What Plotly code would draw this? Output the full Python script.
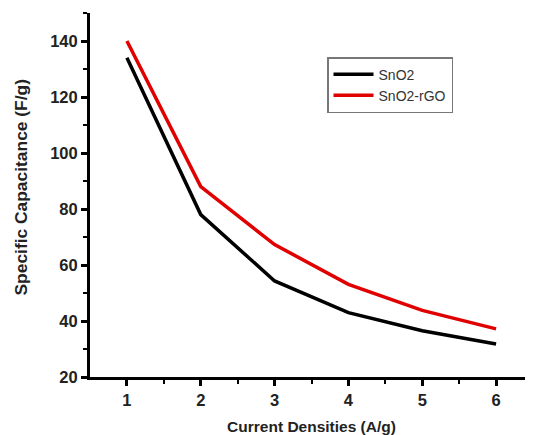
import plotly.graph_objects as go

current_density = [1, 2, 3, 4, 5, 6]
sno2 = [134, 78, 54.3, 43, 36.5, 31.8]
sno2_rgo = [140, 88, 67.3, 53.1, 43.8, 37.2]

fig = go.Figure()
fig.add_trace(go.Scatter(x=current_density, y=sno2, mode="lines", name="SnO2",
                         line=dict(color="black", width=3.5)))
fig.add_trace(go.Scatter(x=current_density, y=sno2_rgo, mode="lines", name="SnO2-rGO",
                         line=dict(color="#e00000", width=3.5)))

font_family = "Liberation Sans, Arial, sans-serif"
# page body has an 8px margin, so the figure is sized/margined to compensate
fig.update_layout(
    width=525, height=427,
    margin=dict(l=82, r=0, t=5, b=58),
    plot_bgcolor="white", paper_bgcolor="white",
    font=dict(family=font_family, color="#222"),
    showlegend=True,
    legend=dict(x=0.535, y=0.879, xanchor="left", yanchor="top",
                bordercolor="#777", borderwidth=1.5, bgcolor="white",
                font=dict(size=14, color="#333"), tracegroupgap=0,
                itemwidth=40),
    xaxis=dict(range=[0.5, 6.5], tickvals=[1, 2, 3, 4, 5, 6],
               automargin=False,
               showline=True, linecolor="black", linewidth=3,
               ticks="outside", ticklen=6, tickwidth=2.5, tickcolor="black",
               minor=dict(tickvals=[1.5, 2.5, 3.5, 4.5, 5.5], ticks="outside",
                          ticklen=4, tickwidth=2, tickcolor="black"),
               showgrid=False, zeroline=False,
               tickfont=dict(size=16.5, family=font_family, weight="bold", color="#222"),
               title=dict(text="<b>Current Densities (A/g)</b>", font=dict(size=15.5), standoff=14)),
    yaxis=dict(range=[20, 150], tickvals=[20, 40, 60, 80, 100, 120, 140],
               automargin=False,
               showline=True, linecolor="black", linewidth=3,
               ticks="outside", ticklen=6, tickwidth=2.5, tickcolor="black",
               minor=dict(tickvals=[30, 50, 70, 90, 110, 130, 150], ticks="outside",
                          ticklen=4, tickwidth=2, tickcolor="black"),
               showgrid=False, zeroline=False,
               tickfont=dict(size=16.5, family=font_family, weight="bold", color="#222")),
    annotations=[dict(text="<b>Specific Capacitance (F/g)</b>", textangle=-90,
                      xref="paper", yref="paper", x=-0.158, y=0.5206,
                      xanchor="center", yanchor="middle", showarrow=False,
                      font=dict(size=17.4, family=font_family, color="#222"))],
)

fig.write_html("out.html")
